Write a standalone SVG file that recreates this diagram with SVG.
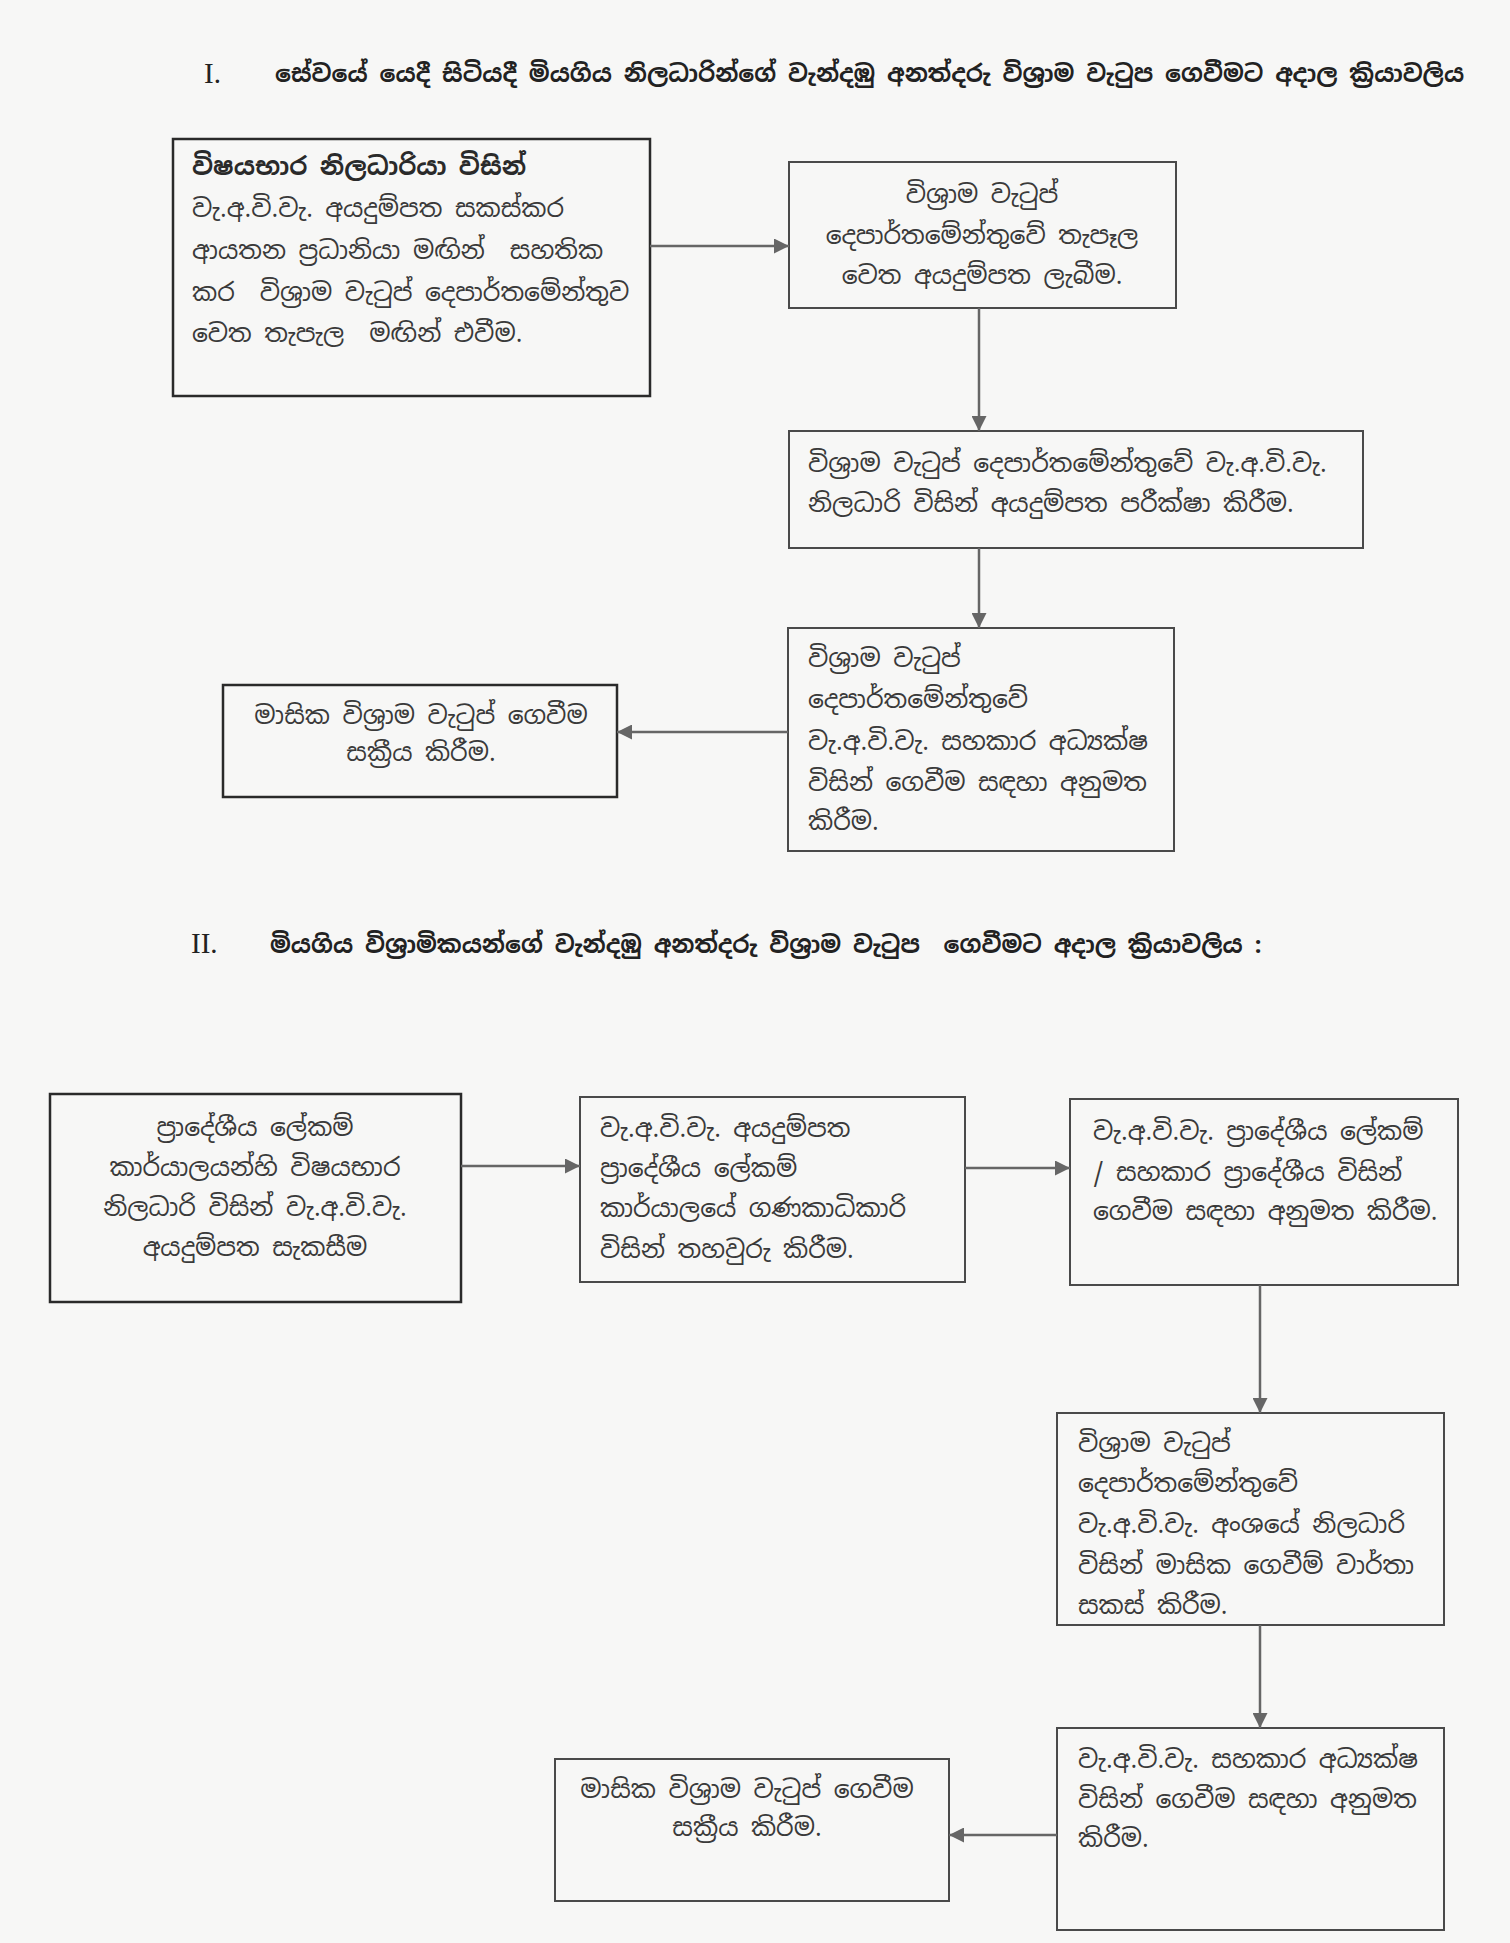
<svg xmlns="http://www.w3.org/2000/svg" width="1510" height="1943" viewBox="0 0 1510 1943" xml:space="preserve">
<defs>
<style>
.bg{fill:#f7f7f6}
.box{fill:none;stroke:#4a4a4a;stroke-width:2}
.boxd{fill:none;stroke:#2a2a2a;stroke-width:2.5}
.t{font-family:"Noto Sans Sinhala","Noto Sans","Noto Serif Sinhala",sans-serif;font-size:25px;fill:#3a3a3a;white-space:pre}
.c{text-anchor:middle}
.b{font-weight:bold;fill:#2a2a2a}
.h{font-family:"Noto Sans Sinhala","Noto Sans",sans-serif;font-size:23.7px;font-weight:bold;fill:#222;white-space:pre}
.n{font-family:"Liberation Serif",serif;font-size:29px;fill:#222}
.ar{stroke:#666;stroke-width:2.5;fill:none;marker-end:url(#ah)}
</style>
<marker id="ah" viewBox="0 0 10 10" refX="10" refY="5" markerWidth="6" markerHeight="6" orient="auto" markerUnits="strokeWidth">
<path d="M0,0 L10,5 L0,10 z" fill="#666"/>
</marker>
</defs>
<rect class="bg" x="0" y="0" width="1510" height="1943"/>

<g id="title1">
<text class="n" x="204" y="83">I.</text>
<text class="h" x="275" y="82">සේවයේ යෙදී සිටියදී මියගිය නිලධාරින්ගේ වැන්දඹු අනත්දරු වි&#x0DC1;&#x0DCA;&#x200D;&#x0DBB;ාම වැටුප ගෙවීමට අදාල ක&#x0DCA;&#x200D;&#x0DBB;ියාවලිය</text>
</g>

<g id="nodeA">
<rect class="boxd" x="173" y="139" width="477" height="257"/>
<text class="t b" x="192" y="175">විෂයභාර නිලධාරියා විසින්</text>
<text class="t" x="192" y="217">වැ.අ.වි.වැ. අයදුම්පත සකස්කර</text>
<text class="t" x="192" y="259">ආයතන ප&#x0DCA;&#x200D;&#x0DBB;ධානියා මඟින්  සහතික</text>
<text class="t" x="192" y="301">කර  වි&#x0DC1;&#x0DCA;&#x200D;&#x0DBB;ාම වැටුප් දෙපාර්තමේන්තුව</text>
<text class="t" x="192" y="342">වෙත තැපැල  මඟින් එවීම.</text>
</g>

<g id="nodeB">
<rect class="box" x="789" y="162" width="387" height="146"/>
<text class="t c" x="982" y="203">වි&#x0DC1;&#x0DCA;&#x200D;&#x0DBB;ාම වැටුප්</text>
<text class="t c" x="982" y="244">දෙපාර්තමේන්තුවේ තැපෑල</text>
<text class="t c" x="982" y="284">වෙත අයදුම්පත ලැබීම.</text>
</g>

<g id="nodeC">
<rect class="box" x="789" y="431" width="574" height="117"/>
<text class="t" x="808" y="472">වි&#x0DC1;&#x0DCA;&#x200D;&#x0DBB;ාම වැටුප් දෙපාර්තමේන්තුවේ වැ.අ.වි.වැ.</text>
<text class="t" x="808" y="512">නිලධාරි විසින් අයදුම්පත පරීක්ෂා කිරීම.</text>
</g>

<g id="nodeE">
<rect class="box" x="788" y="628" width="386" height="223"/>
<text class="t" x="808" y="667">වි&#x0DC1;&#x0DCA;&#x200D;&#x0DBB;ාම වැටුප්</text>
<text class="t" x="808" y="708">දෙපාර්තමේන්තුවේ</text>
<text class="t" x="808" y="750">වැ.අ.වි.වැ. සහකාර අධ&#x0DCA;&#x200D;&#x0DBA;ක්ෂ</text>
<text class="t" x="808" y="791">විසින් ගෙවීම සඳහා අනුමත</text>
<text class="t" x="808" y="830">කිරීම.</text>
</g>

<g id="nodeD">
<rect class="boxd" x="223" y="685" width="394" height="112"/>
<text class="t c" x="421" y="724">මාසික වි&#x0DC1;&#x0DCA;&#x200D;&#x0DBB;ාම වැටුප් ගෙවීම</text>
<text class="t c" x="421" y="761">සක&#x0DCA;&#x200D;&#x0DBB;ීය කිරීම.</text>
</g>

<g id="title2">
<text class="n" x="191" y="953">II.</text>
<text class="h" x="270" y="953">මියගිය වි&#x0DC1;&#x0DCA;&#x200D;&#x0DBB;ාමිකයන්ගේ වැන්දඹු අනත්දරු වි&#x0DC1;&#x0DCA;&#x200D;&#x0DBB;ාම වැටුප  ගෙවීමට අදාල ක&#x0DCA;&#x200D;&#x0DBB;ියාවලිය :</text>
</g>

<g id="nodeF">
<rect class="boxd" x="50" y="1094" width="411" height="208"/>
<text class="t c" x="255" y="1136">ප&#x0DCA;&#x200D;&#x0DBB;ාදේශීය ලේකම්</text>
<text class="t c" x="255" y="1176">කාර්යාලයන්හි විෂයභාර</text>
<text class="t c" x="255" y="1216">නිලධාරි විසින් වැ.අ.වි.වැ.</text>
<text class="t c" x="255" y="1256">අයදුම්පත සැකසීම</text>
</g>

<g id="nodeG">
<rect class="box" x="580" y="1097" width="385" height="185"/>
<text class="t" x="600" y="1137">වැ.අ.වි.වැ. අයදුම්පත</text>
<text class="t" x="600" y="1177">ප&#x0DCA;&#x200D;&#x0DBB;ාදේශීය ලේකම්</text>
<text class="t" x="600" y="1217">කාර්යාලයේ ගණකාධිකාරි</text>
<text class="t" x="600" y="1258">විසින් තහවුරු කිරීම.</text>
</g>

<g id="nodeH">
<rect class="box" x="1070" y="1099" width="388" height="186"/>
<text class="t" x="1093" y="1140">වැ.අ.වි.වැ. ප&#x0DCA;&#x200D;&#x0DBB;ාදේශීය ලේකම්</text>
<text class="t" x="1093" y="1181">/ සහකාර ප&#x0DCA;&#x200D;&#x0DBB;ාදේශීය විසින්</text>
<text class="t" x="1093" y="1220">ගෙවීම සඳහා අනුමත කිරීම.</text>
</g>

<g id="nodeI">
<rect class="box" x="1057" y="1413" width="387" height="212"/>
<text class="t" x="1078" y="1452">වි&#x0DC1;&#x0DCA;&#x200D;&#x0DBB;ාම වැටුප්</text>
<text class="t" x="1078" y="1492">දෙපාර්තමේන්තුවේ</text>
<text class="t" x="1078" y="1533">වැ.අ.වි.වැ. අංශයේ නිලධාරි</text>
<text class="t" x="1078" y="1574">විසින් මාසික ගෙවීම් වාර්තා</text>
<text class="t" x="1078" y="1614">සකස් කිරීම.</text>
</g>

<g id="nodeJ">
<rect class="box" x="1057" y="1728" width="387" height="202"/>
<text class="t" x="1078" y="1768">වැ.අ.වි.වැ. සහකාර අධ&#x0DCA;&#x200D;&#x0DBA;ක්ෂ</text>
<text class="t" x="1078" y="1808">විසින් ගෙවීම සඳහා අනුමත</text>
<text class="t" x="1078" y="1847">කිරීම.</text>
</g>

<g id="nodeK">
<rect class="box" x="555" y="1759" width="394" height="142"/>
<text class="t c" x="747" y="1798">මාසික වි&#x0DC1;&#x0DCA;&#x200D;&#x0DBB;ාම වැටුප් ගෙවීම</text>
<text class="t c" x="747" y="1836">සක&#x0DCA;&#x200D;&#x0DBB;ීය කිරීම.</text>
</g>

<g id="connectors">
<line class="ar" x1="650" y1="246" x2="789" y2="246"/>
<line class="ar" x1="979" y1="308" x2="979" y2="431"/>
<line class="ar" x1="979" y1="548" x2="979" y2="628"/>
<line class="ar" x1="788" y1="732" x2="617" y2="732"/>
<line class="ar" x1="461" y1="1166" x2="580" y2="1166"/>
<line class="ar" x1="965" y1="1168" x2="1070" y2="1168"/>
<line class="ar" x1="1260" y1="1285" x2="1260" y2="1413"/>
<line class="ar" x1="1260" y1="1625" x2="1260" y2="1728"/>
<line class="ar" x1="1057" y1="1835" x2="949" y2="1835"/>
</g>
</svg>
